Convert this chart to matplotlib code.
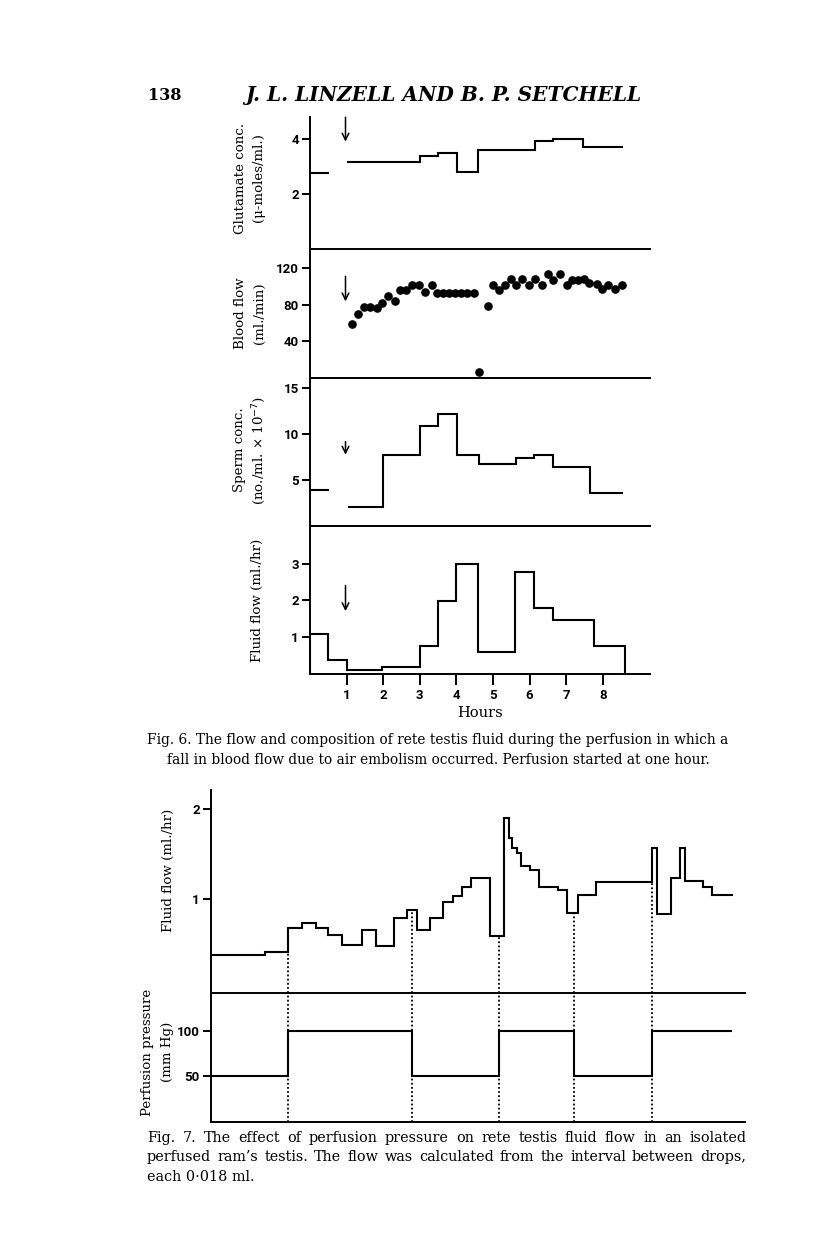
import numpy as np
import matplotlib.pyplot as plt

W, H = 816, 1258

# ---- Fig. 6 data (hours) ----
glu_pre_edges = [0, 0.53]
glu_pre = [2.76]
glu_edges = [1.0, 3.0, 3.5, 4.03, 4.6, 6.15, 6.65, 7.47, 8.56]
glu_vals = [3.16, 3.39, 3.51, 2.79, 3.61, 3.93, 4.02, 3.73]

blood_hours = [1.14, 1.32, 1.48, 1.63, 1.82, 1.98, 2.14, 2.33, 2.47, 2.62, 2.79, 2.99,
               3.13, 3.32, 3.48, 3.64, 3.81, 3.97, 4.13, 4.29, 4.47, 4.62, 4.85, 5.01,
               5.17, 5.33, 5.48, 5.62, 5.80, 5.98, 6.14, 6.34, 6.49, 6.63, 6.82, 7.01,
               7.17, 7.32, 7.49, 7.63, 7.83, 7.98, 8.15, 8.34, 8.52]
blood_flow = [59, 70, 77, 77, 76, 82, 90, 84, 96, 96, 102, 102,
              94, 101, 93, 93, 93, 93, 93, 93, 93, 6.5, 79, 102,
              96, 102, 108, 102, 108, 102, 108, 102, 113, 107, 113, 102,
              107, 107, 108, 104, 103, 97, 102, 97, 102]

sperm_pre_edges = [0, 0.53]
sperm_pre = [3.84]
sperm_edges = [1.03, 2.0, 3.0, 3.5, 4.03, 4.62, 5.62, 6.13, 6.65, 7.65, 8.56]
sperm_vals = [2.05, 7.7, 10.85, 12.08, 7.7, 6.65, 7.3, 7.7, 6.33, 3.49]

fluid_edges = [0, 0.5, 1.02, 1.98, 3.0, 3.49, 4.0, 4.58, 5.6, 6.12, 6.63, 7.76, 8.6]
fluid_vals = [1.09, 0.39, 0.11, 0.2, 0.77, 1.98, 3.0, 0.59, 2.77, 1.8, 1.47, 0.75]

start_hour = 0.97
hour_ticks = [1, 2, 3, 4, 5, 6, 7, 8]

# ---- Fig. 7 data (arbitrary time units) ----
f7_edges = [0, 54, 77, 91, 105, 117, 131, 151, 165, 183, 196, 206, 219, 232, 242, 251,
            260, 279, 293, 298, 301, 306, 310, 319, 328, 347, 356, 367, 385, 441, 446,
            460, 469, 474, 492, 501, 522]
f7_flow = [0.39, 0.42, 0.68, 0.74, 0.68, 0.61, 0.50, 0.66, 0.49, 0.79, 0.88, 0.66,
           0.79, 0.97, 1.04, 1.14, 1.23, 0.59, 1.90, 1.68, 1.57, 1.51, 1.37, 1.32,
           1.14, 1.10, 0.85, 1.05, 1.19, 1.57, 0.84, 1.24, 1.57, 1.20, 1.14, 1.05]
press_edges = [0, 77, 201, 288, 363, 441, 521]
press_vals = [50, 100, 50, 100, 50, 100]

plt.rcParams['font.family'] = ['DejaVu Serif']
LW = 1.5
SP = 1.4


def rect(l, t, r, b):
    return [l / W, 1 - b / H, (r - l) / W, (b - t) / H]


def style(ax, ticks):
    ax.patch.set_visible(False)
    for s in ['top', 'right']:
        ax.spines[s].set_visible(False)
    for s in ['left', 'bottom']:
        ax.spines[s].set_linewidth(SP)
    ax.set_yticks(ticks)
    ax.tick_params(axis='y', direction='out', length=6, width=SP, pad=2, labelsize=9.5)
    for lab in ax.get_yticklabels():
        lab.set_fontfamily('Roboto')
        lab.set_fontweight('bold')


def arrow(ax, y0, y1):
    ax.annotate('', xy=(start_hour, y1), xytext=(start_hour, y0),
                arrowprops=dict(arrowstyle='->', lw=1.1, color='k',
                                shrinkA=0, shrinkB=0, mutation_scale=12))


def justify(y, line, x0, x1, size):
    # spread the words of one caption line over x0..x1 pixels
    words = line.split()
    texts = [fig.text(0, 1 - y / H, w, fontsize=size, va='center') for w in words]
    r = fig.canvas.get_renderer()
    widths = [t.get_window_extent(r).width for t in texts]
    gap = (x1 - x0 - sum(widths)) / (len(words) - 1)
    x = x0
    for t, w in zip(texts, widths):
        t.set_x(x / W)
        x += w + gap


fig = plt.figure(figsize=(W / 100, H / 100), dpi=100)

fig.text(148 / W, 1 - 95 / H, '138', fontsize=11.5, fontweight='bold', va='center')
fig.text(443 / W, 1 - 95 / H, 'J. L. LINZELL AND B. P. SETCHELL', fontsize=14.5,
         style='italic', fontweight='bold', ha='center', va='center')

# glutamate
ax1 = fig.add_axes(rect(310, 117, 650, 248.5))
ax1.stairs(glu_pre, glu_pre_edges, baseline=None, color='k', lw=LW)
ax1.stairs(glu_vals, glu_edges, baseline=None, color='k', lw=LW)
ax1.set_ylim(0, 4.81)
style(ax1, [2, 4])
arrow(ax1, 4.8, 3.91)

# blood flow
ax2 = fig.add_axes(rect(310, 248.5, 650, 378))
ax2.plot(blood_hours, blood_flow, 'o', color='k', ms=5.2, clip_on=False)
ax2.set_ylim(0, 141.3)
style(ax2, [40, 80, 120])
arrow(ax2, 110.9, 83.6)

# sperm
ax3 = fig.add_axes(rect(310, 378, 650, 525.5))
ax3.stairs(sperm_pre, sperm_pre_edges, baseline=None, color='k', lw=LW)
ax3.stairs(sperm_vals, sperm_edges, baseline=None, color='k', lw=LW)
ax3.set_ylim(0, 16.05)
style(ax3, [5, 10, 15])
arrow(ax3, 9.13, 7.7)

# fluid flow
ax4 = fig.add_axes(rect(310, 525.5, 650, 674))
ax4.stairs(fluid_vals, fluid_edges, baseline=0, color='k', lw=LW)
ax4.set_ylim(0, 4.04)
style(ax4, [1, 2, 3])
arrow(ax4, 2.41, 1.71)

for ax in [ax1, ax2, ax3, ax4]:
    ax.set_xlim(0, 9.29)
    if ax is not ax4:
        ax.set_xticks([])
ax4.set_xticks(hour_ticks)
ax4.tick_params(axis='x', direction='out', length=8, width=SP, pad=3, labelsize=9.5)
for lab in ax4.get_xticklabels():
    lab.set_fontfamily('Roboto')
    lab.set_fontweight('bold')

fig.text(480 / W, 1 - 713 / H, 'Hours', fontsize=10.5, ha='center', va='center')

ylab = dict(rotation=90, ha='center', va='center', fontsize=9.6)
fig.text(240 / W, 1 - 178 / H, 'Glutamate conc.', **ylab)
fig.text(259 / W, 1 - 178 / H, '(\u03bc-moles/ml.)', **ylab)
fig.text(240 / W, 1 - 313 / H, 'Blood flow', **ylab)
fig.text(259 / W, 1 - 313 / H, '(ml./min)', **ylab)
fig.text(240 / W, 1 - 450 / H, 'Sperm conc.', **ylab)
fig.text(259 / W, 1 - 450 / H, '(no./ml. \u00d7 10$^{-7}$)', **ylab)
fig.text(257 / W, 1 - 600 / H, 'Fluid flow (ml./hr)', **ylab)

fig.text(438 / W, 1 - 740 / H,
         'Fig. 6. The flow and composition of rete testis fluid during the perfusion in which a',
         fontsize=9.95, ha='center', va='center')
fig.text(438 / W, 1 - 760 / H,
         'fall in blood flow due to air embolism occurred. Perfusion started at one hour.',
         fontsize=9.95, ha='center', va='center')

# ---- Fig. 7 ----
ax5 = fig.add_axes(rect(211, 790, 745, 993))
ax5.stairs(f7_flow, f7_edges, baseline=None, color='k', lw=LW)
ax5.set_ylim(-0.033, 2.205)
style(ax5, [1, 2])

ax6 = fig.add_axes(rect(211, 993, 745, 1122))
ax6.stairs(press_vals, press_edges, baseline=None, color='k', lw=LW)
ax6.set_ylim(-1.8, 142.5)
style(ax6, [50, 100])

for t in press_edges[1:-1]:
    left = f7_flow[np.searchsorted(f7_edges, t - 0.5) - 1]
    right = f7_flow[np.searchsorted(f7_edges, t + 0.5) - 1]
    ax5.vlines(t, -0.033, min(left, right), color='k', lw=1.3, linestyle=(0, (1, 1.3)))
    ax6.vlines(t, -1.8, 142.5, color='k', lw=1.3, linestyle=(0, (1, 1.3)))

for ax in [ax5, ax6]:
    ax.set_xlim(0, 534)
    ax.set_xticks([])

fig.text(168 / W, 1 - 870 / H, 'Fluid flow (ml./hr)', **ylab)
fig.text(148 / W, 1 - 1052 / H, 'Perfusion pressure', **ylab)
fig.text(168 / W, 1 - 1052 / H, '(mm Hg)', **ylab)

justify(1138, 'Fig. 7. The effect of perfusion pressure on rete testis fluid flow in an isolated',
        147, 746, 10.4)
justify(1157, 'perfused ram\u2019s testis. The flow was calculated from the interval between drops,',
        147, 746, 10.4)
fig.text(147 / W, 1 - 1177 / H, 'each 0\u00b7018 ml.', fontsize=10.4, va='center')

fig.savefig('out.png', dpi=100)
